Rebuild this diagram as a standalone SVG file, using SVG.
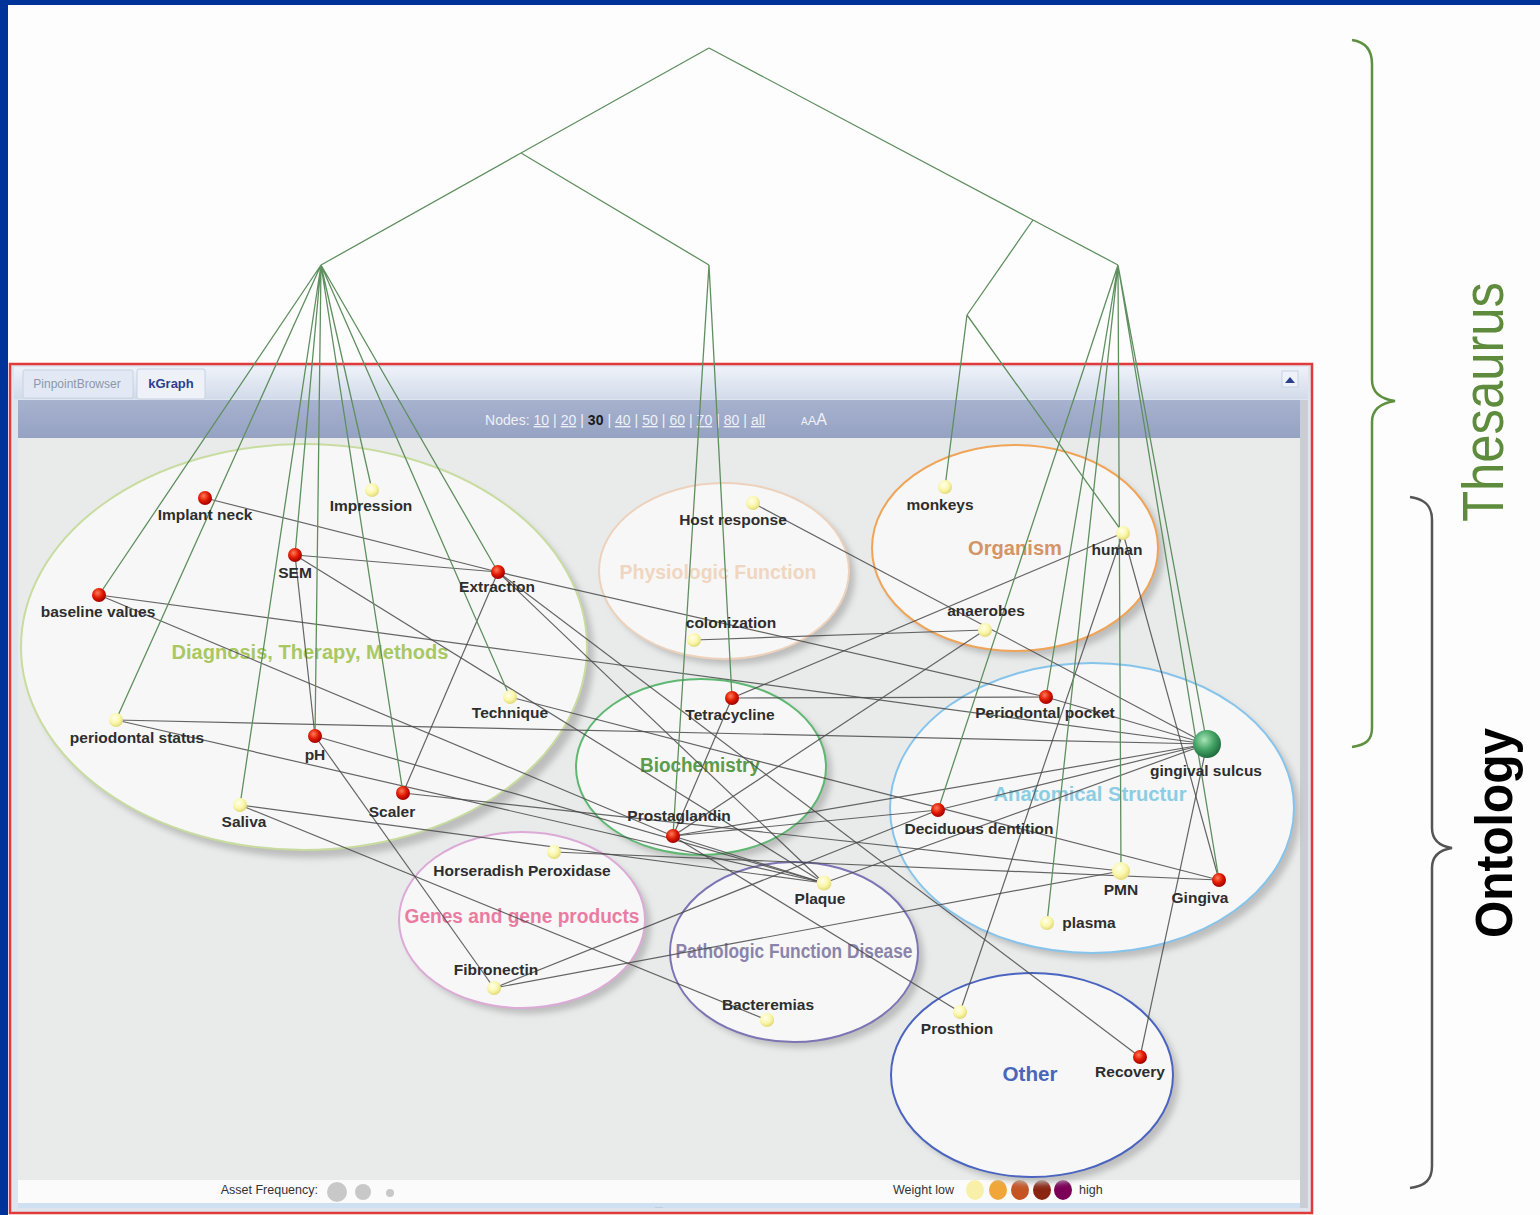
<svg xmlns="http://www.w3.org/2000/svg" width="1540" height="1215" viewBox="0 0 1540 1215">
<style>
.lbl{font-family:"Liberation Sans",Arial,sans-serif;font-weight:bold;font-size:15.5px;fill:#2e2e2e;text-anchor:middle}
.cat{font-family:"Liberation Sans",Arial,sans-serif;font-weight:bold;font-size:20px;text-anchor:middle}
.ell{fill:#f7f7f7;stroke-width:2}
.shd{fill:#bdbdbd;filter:url(#blur)}
.rel{stroke:#4a4a4a;stroke-width:1.2;fill:none;stroke-opacity:.85}
.tree{stroke:#5f8f5f;stroke-width:1.3;fill:none}
.red{fill:url(#redG)}
.yel{fill:url(#yelG)}
.ui{font-family:"Liberation Sans",Arial,sans-serif}
</style>
<defs>
<filter id="blur" x="-20%" y="-20%" width="140%" height="140%"><feGaussianBlur stdDeviation="3"/></filter>
<radialGradient id="redG" cx="40%" cy="35%" r="65%"><stop offset="0" stop-color="#ff7a5a"/><stop offset="0.55" stop-color="#e01a00"/><stop offset="1" stop-color="#a00000"/></radialGradient>
<radialGradient id="yelG" cx="40%" cy="35%" r="65%"><stop offset="0" stop-color="#ffffee"/><stop offset="0.6" stop-color="#faf6a8"/><stop offset="1" stop-color="#e2da78"/></radialGradient>
<radialGradient id="grnG" cx="40%" cy="35%" r="65%"><stop offset="0" stop-color="#a8e4b8"/><stop offset="0.55" stop-color="#44a466"/><stop offset="1" stop-color="#1f6e40"/></radialGradient>
<linearGradient id="tabbar" x1="0" y1="0" x2="0" y2="1"><stop offset="0" stop-color="#eef2f9"/><stop offset="1" stop-color="#d2dbea"/></linearGradient>
<linearGradient id="toolbar" x1="0" y1="0" x2="0" y2="1"><stop offset="0" stop-color="#a7b2cf"/><stop offset="1" stop-color="#96a2c2"/></linearGradient>
</defs>

<!-- page background and frame -->
<rect x="0" y="0" width="1540" height="1215" fill="#fdfdfd"/>
<rect x="0" y="0" width="1540" height="5" fill="#003399"/>
<rect x="0" y="0" width="8" height="1215" fill="#003399"/>

<!-- panel chrome -->
<g id="panel">
<rect x="10" y="364" width="1302" height="849" fill="#dfe5ef" stroke="#e03a3a" stroke-width="2.5"/>
<rect x="14" y="367" width="1294" height="32" fill="url(#tabbar)"/>
<rect x="23" y="370" width="110" height="28" rx="2" fill="#e2e9f4" stroke="#c8d2e2"/>
<text class="ui" x="77" y="388" font-size="12" fill="#8c97ab" text-anchor="middle">PinpointBrowser</text>
<rect x="137" y="369" width="68" height="30" rx="2" fill="#eef2f8" stroke="#c8d2e2"/>
<text class="ui" x="171" y="388" font-size="13" font-weight="bold" fill="#2b3f8c" text-anchor="middle">kGraph</text>
<rect x="1282" y="371" width="16" height="16" fill="#eef2f8" stroke="#c8d2e2"/>
<path d="M1285,383 L1290,377 L1295,383 Z" fill="#2b3f8c"/>
<rect x="18" y="400" width="1284" height="38" fill="url(#toolbar)"/>
<text class="ui" x="485" y="425" font-size="14" fill="#eef1f8" textLength="280">Nodes: <tspan text-decoration="underline">10</tspan> | <tspan text-decoration="underline">20</tspan> | <tspan font-weight="bold" fill="#1a1a1a">30</tspan> | <tspan text-decoration="underline">40</tspan> | <tspan text-decoration="underline">50</tspan> | <tspan text-decoration="underline">60</tspan> | <tspan text-decoration="underline">70</tspan> | <tspan text-decoration="underline">80</tspan> | <tspan text-decoration="underline">all</tspan></text>
<text class="ui" x="801" y="425" fill="#eef1f8"><tspan font-size="10">A</tspan><tspan font-size="13">A</tspan><tspan font-size="16">A</tspan></text>
<rect x="18" y="438" width="1284" height="742" fill="#e9ebeb"/>
<rect x="1300" y="400" width="8" height="808" fill="#c9cdd4"/>
<rect x="18" y="1180" width="1282" height="24" fill="#fbfbfb"/>
<rect x="18" y="1203" width="1282" height="5" fill="#cfe0f2"/>
<text class="ui" x="659" y="1208" font-size="7" fill="#9aa" text-anchor="middle">....</text>
<text class="ui" x="318" y="1194" font-size="12.5" fill="#333" text-anchor="end">Asset Frequency:</text>
<circle cx="337" cy="1192" r="10" fill="#c8c8c8"/>
<circle cx="363" cy="1192" r="8" fill="#c8c8c8"/>
<circle cx="390" cy="1193" r="4" fill="#c8c8c8"/>
<text class="ui" x="893" y="1194" font-size="12.5" fill="#333">Weight  low</text>
<ellipse cx="975" cy="1190" rx="9" ry="10" fill="#f8f0a8"/>
<ellipse cx="998" cy="1190" rx="9" ry="10" fill="#f0a638"/>
<ellipse cx="1020" cy="1190" rx="9" ry="10" fill="#c55424"/>
<ellipse cx="1042" cy="1190" rx="9" ry="10" fill="#8a2410"/>
<ellipse cx="1063" cy="1190" rx="9" ry="10" fill="#7c0058"/>
<text class="ui" x="1079" y="1194" font-size="12.5" fill="#333">high</text>
</g>

<!-- categories -->
<g id="cat-diagnosis"><ellipse class="shd" cx="311" cy="655" rx="283" ry="203"/><ellipse class="ell" cx="304" cy="647" rx="283" ry="203" stroke="#c8dca0"/></g>
<g id="cat-physiologic"><ellipse class="shd" cx="730" cy="577" rx="125" ry="88"/><ellipse class="ell" cx="724" cy="571" rx="125" ry="88" stroke="#ecd2bc"/></g>
<g id="cat-organism"><ellipse class="shd" cx="1021" cy="554" rx="143" ry="103"/><ellipse class="ell" cx="1015" cy="548" rx="143" ry="103" stroke="#f0a458"/></g>
<g id="cat-biochemistry"><ellipse class="shd" cx="707" cy="773" rx="125" ry="88"/><ellipse class="ell" cx="701" cy="767" rx="125" ry="88" stroke="#5fb872"/></g>
<g id="cat-anatomical"><ellipse class="shd" cx="1098" cy="814" rx="202" ry="145"/><ellipse class="ell" cx="1092" cy="808" rx="202" ry="145" stroke="#86c4ec"/></g>
<g id="cat-genes"><ellipse class="shd" cx="528" cy="926" rx="123" ry="88"/><ellipse class="ell" cx="522" cy="920" rx="123" ry="88" stroke="#dcaad6"/></g>
<g id="cat-pathologic"><ellipse class="shd" cx="800" cy="958" rx="124" ry="90"/><ellipse class="ell" cx="794" cy="952" rx="124" ry="90" stroke="#7c74b4"/></g>
<g id="cat-other"><ellipse class="shd" cx="1038" cy="1081" rx="141" ry="102"/><ellipse class="ell" cx="1032" cy="1075" rx="141" ry="102" stroke="#4a64c0"/></g>

<g id="cat-labels">
<text class="cat" x="310" y="659" fill="#a9c864" textLength="277" lengthAdjust="spacingAndGlyphs">Diagnosis, Therapy, Methods</text>
<text class="cat" x="718" y="579" fill="#f0d6c0" textLength="197" lengthAdjust="spacingAndGlyphs">Physiologic Function</text>
<text class="cat" x="1015" y="555" fill="#d49466" textLength="94" lengthAdjust="spacingAndGlyphs">Organism</text>
<text class="cat" x="700" y="772" fill="#5c9c4c" textLength="120" lengthAdjust="spacingAndGlyphs">Biochemistry</text>
<text class="cat" x="1090" y="801" fill="#8ccde4" textLength="193" lengthAdjust="spacingAndGlyphs">Anatomical Structur</text>
<text class="cat" x="522" y="923" fill="#ea7ca2" textLength="235" lengthAdjust="spacingAndGlyphs">Genes and gene products</text>
<text class="cat" x="794" y="958" fill="#8a84aa" textLength="237" lengthAdjust="spacingAndGlyphs">Pathologic Function Disease</text>
<text class="cat" x="1030" y="1081" fill="#4a66ba" textLength="55" lengthAdjust="spacingAndGlyphs">Other</text>
</g>

<!-- connectors -->
<g id="connectors">
<g class="rel">
<line x1="205" y1="498" x2="498" y2="572"/>
<line x1="295" y1="555" x2="498" y2="572"/>
<line x1="498" y1="572" x2="1046" y2="697"/>
<line x1="498" y1="572" x2="403" y2="793"/>
<line x1="498" y1="572" x2="824" y2="883"/>
<line x1="498" y1="572" x2="1140" y2="1057"/>
<line x1="295" y1="555" x2="315" y2="736"/>
<line x1="295" y1="555" x2="824" y2="883"/>
<line x1="99" y1="595" x2="1207" y2="744"/>
<line x1="99" y1="595" x2="673" y2="836"/>
<line x1="116" y1="720" x2="1207" y2="744"/>
<line x1="116" y1="720" x2="824" y2="883"/>
<line x1="315" y1="736" x2="824" y2="883"/>
<line x1="315" y1="736" x2="494" y2="988"/>
<line x1="403" y1="793" x2="1121" y2="871"/>
<line x1="240" y1="805" x2="824" y2="883"/>
<line x1="240" y1="805" x2="767" y2="1020"/>
<line x1="510" y1="697" x2="1219" y2="880"/>
<line x1="753" y1="503" x2="1207" y2="744"/>
<line x1="694" y1="640" x2="985" y2="630"/>
<line x1="732" y1="698" x2="1123" y2="533"/>
<line x1="732" y1="698" x2="1046" y2="697"/>
<line x1="732" y1="698" x2="673" y2="836"/>
<line x1="673" y1="836" x2="985" y2="630"/>
<line x1="673" y1="836" x2="1207" y2="744"/>
<line x1="673" y1="836" x2="938" y2="810"/>
<line x1="673" y1="836" x2="824" y2="883"/>
<line x1="673" y1="836" x2="960" y2="1012"/>
<line x1="554" y1="852" x2="1219" y2="880"/>
<line x1="494" y1="988" x2="938" y2="810"/>
<line x1="494" y1="988" x2="1121" y2="871"/>
<line x1="824" y1="883" x2="1207" y2="744"/>
<line x1="1123" y1="533" x2="1219" y2="880"/>
<line x1="1123" y1="533" x2="960" y2="1012"/>
<line x1="1046" y1="697" x2="1207" y2="744"/>
<line x1="938" y1="810" x2="1207" y2="744"/>
<line x1="1207" y1="744" x2="1140" y2="1057"/>
</g>
<g class="tree">
<path d="M709,48 L521,153 L321,265 M521,153 L709,265 M709,48 L1033,220 L1118,265 M1033,220 L967,315"/>
<path d="M321,265 L99,595 M321,265 L116,720 M321,265 L240,805 M321,265 L295,555 M321,265 L315,736 M321,265 L403,793 M321,265 L372,490 M321,265 L510,697 M321,265 L498,572"/>
<path d="M709,265 L732,698 M709,265 L673,836"/>
<path d="M967,315 L945,487 M967,315 L1123,533"/>
<path d="M1118,265 L938,810 M1118,265 L1046,697 M1118,265 L1047,923 M1118,265 L1121,871 M1118,265 L1207,744 M1118,265 L1219,880"/>
</g>
</g>

<!-- nodes -->
<g id="n-implant-neck"><circle class="red" cx="205" cy="498" r="7"/><text class="lbl" x="205" y="520">Implant neck</text></g>
<g id="n-impression"><circle class="yel" cx="372" cy="490" r="7"/><text class="lbl" x="371" y="511">Impression</text></g>
<g id="n-sem"><circle class="red" cx="295" cy="555" r="7"/><text class="lbl" x="295" y="578">SEM</text></g>
<g id="n-extraction"><circle class="red" cx="498" cy="572" r="7"/><text class="lbl" x="497" y="592">Extraction</text></g>
<g id="n-baseline"><circle class="red" cx="99" cy="595" r="7"/><text class="lbl" x="98" y="617">baseline values</text></g>
<g id="n-technique"><circle class="yel" cx="510" cy="697" r="7"/><text class="lbl" x="510" y="718">Technique</text></g>
<g id="n-periodontal-status"><circle class="yel" cx="116" cy="720" r="7"/><text class="lbl" x="137" y="743">periodontal status</text></g>
<g id="n-ph"><circle class="red" cx="315" cy="736" r="7"/><text class="lbl" x="315" y="760">pH</text></g>
<g id="n-scaler"><circle class="red" cx="403" cy="793" r="7"/><text class="lbl" x="392" y="817">Scaler</text></g>
<g id="n-saliva"><circle class="yel" cx="240" cy="805" r="7"/><text class="lbl" x="244" y="827">Saliva</text></g>
<g id="n-host-response"><circle class="yel" cx="753" cy="503" r="7"/><text class="lbl" x="733" y="525">Host response</text></g>
<g id="n-colonization"><circle class="yel" cx="694" cy="640" r="7"/><text class="lbl" x="731" y="628">colonization</text></g>
<g id="n-tetracycline"><circle class="red" cx="732" cy="698" r="7"/><text class="lbl" x="730" y="720">Tetracycline</text></g>
<g id="n-prostaglandin"><circle class="red" cx="673" cy="836" r="7"/><text class="lbl" x="679" y="821">Prostaglandin</text></g>
<g id="n-monkeys"><circle class="yel" cx="945" cy="487" r="7"/><text class="lbl" x="940" y="510">monkeys</text></g>
<g id="n-human"><circle class="yel" cx="1123" cy="533" r="7"/><text class="lbl" x="1117" y="555">human</text></g>
<g id="n-anaerobes"><circle class="yel" cx="985" cy="630" r="7"/><text class="lbl" x="986" y="616">anaerobes</text></g>
<g id="n-periodontal-pocket"><circle class="red" cx="1046" cy="697" r="7"/><text class="lbl" x="1045" y="718">Periodontal pocket</text></g>
<g id="n-gingival-sulcus"><circle cx="1207" cy="744" r="14" fill="url(#grnG)"/><text class="lbl" x="1206" y="776">gingival sulcus</text></g>
<g id="n-deciduous"><circle class="red" cx="938" cy="810" r="7"/><text class="lbl" x="979" y="834">Deciduous dentition</text></g>
<g id="n-pmn"><circle class="yel" cx="1121" cy="871" r="9"/><text class="lbl" x="1121" y="895">PMN</text></g>
<g id="n-gingiva"><circle class="red" cx="1219" cy="880" r="7"/><text class="lbl" x="1200" y="903">Gingiva</text></g>
<g id="n-plasma"><circle class="yel" cx="1047" cy="923" r="7"/><text class="lbl" x="1089" y="928">plasma</text></g>
<g id="n-horseradish"><circle class="yel" cx="554" cy="852" r="7"/><text class="lbl" x="522" y="876">Horseradish Peroxidase</text></g>
<g id="n-fibronectin"><circle class="yel" cx="494" cy="988" r="7"/><text class="lbl" x="496" y="975">Fibronectin</text></g>
<g id="n-plaque"><circle class="yel" cx="824" cy="883" r="7.5"/><text class="lbl" x="820" y="904">Plaque</text></g>
<g id="n-bacteremias"><circle class="yel" cx="767" cy="1020" r="7"/><text class="lbl" x="768" y="1010">Bacteremias</text></g>
<g id="n-prosthion"><circle class="yel" cx="960" cy="1012" r="7"/><text class="lbl" x="957" y="1034">Prosthion</text></g>
<g id="n-recovery"><circle class="red" cx="1140" cy="1057" r="7"/><text class="lbl" x="1130" y="1077">Recovery</text></g>

<!-- braces -->
<g id="thesaurus">
<path d="M1352,40 C1366,42 1372,50 1372,64 L1372,380 C1372,393 1381,399 1395,401 C1381,403 1372,409 1372,422 L1372,728 C1372,740 1366,745 1352,747" fill="none" stroke="#5f9040" stroke-width="2.5"/>
<text transform="translate(1503,402) rotate(-90)" font-family="'Liberation Sans',Arial,sans-serif" font-size="57" fill="#5e8c3c" text-anchor="middle" textLength="240" lengthAdjust="spacingAndGlyphs">Thesaurus</text>
</g>
<g id="ontology">
<path d="M1410,497 C1425,499 1432,506 1432,520 L1432,828 C1432,840 1439,846 1452,848 C1439,850 1432,856 1432,868 L1432,1166 C1432,1180 1425,1186 1410,1188" fill="none" stroke="#555" stroke-width="2.5"/>
<text transform="translate(1512,833) rotate(-90)" font-family="'Liberation Sans',Arial,sans-serif" font-weight="bold" font-size="52" fill="#000" text-anchor="middle" textLength="210" lengthAdjust="spacingAndGlyphs">Ontology</text>
</g>
</svg>
